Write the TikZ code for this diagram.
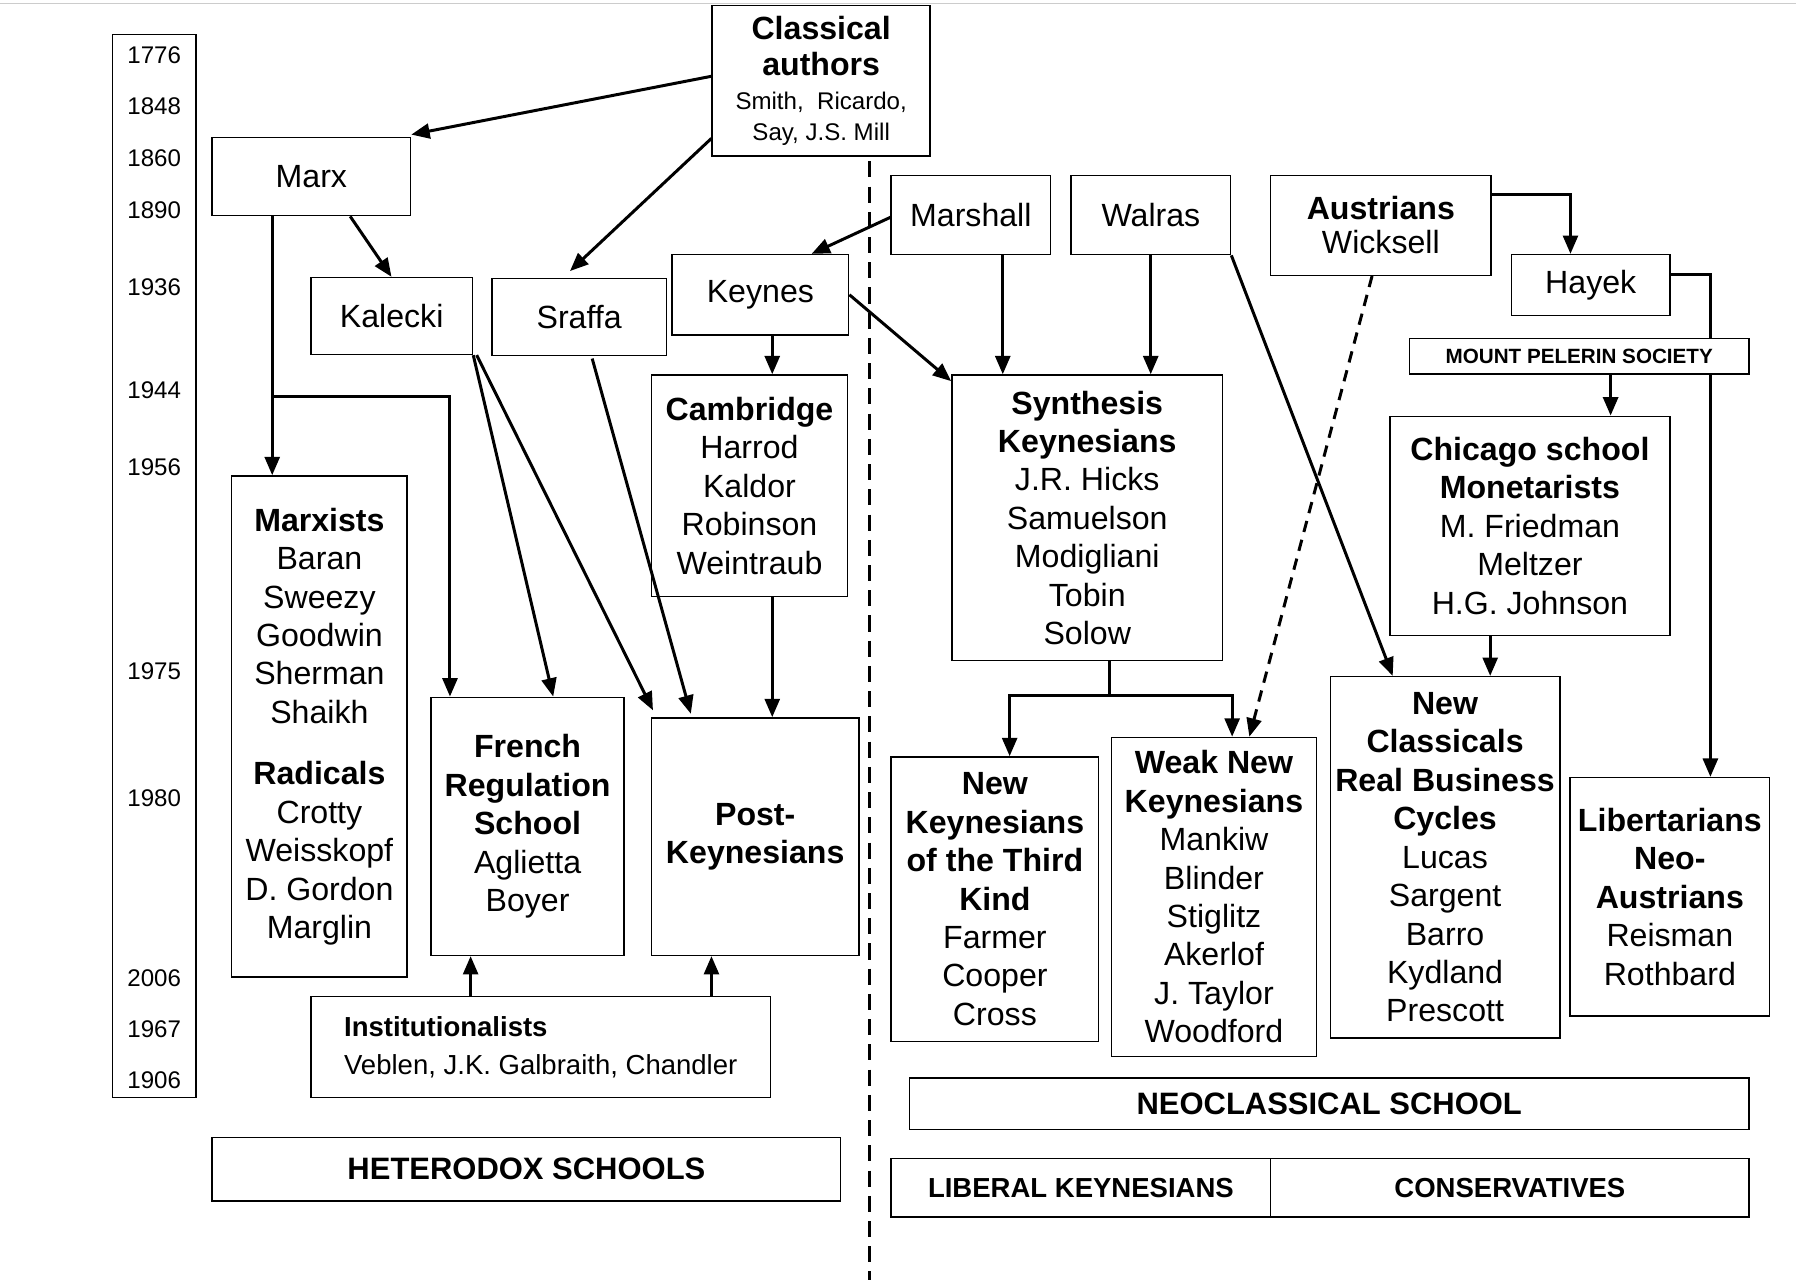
\documentclass[tikz,border=0pt]{standalone}
\usepackage{fontspec}
\setmainfont{Liberation Sans}
\usetikzlibrary{calc,arrows.meta}
\newcommand\fs[1]{\fontsize{#1}{\the\numexpr#1*6/5\relax}\selectfont}
\newcommand\bx[7]{\node[box,#6,minimum width={#4-#2},minimum height={#5-#3}] (#1) at ({(#2+#4)/2},{(#3+#5)/2}) {#7};}
\begin{document}
\begin{tikzpicture}[x=1pt,y=-1pt,
 box/.style={draw,line width=1.3pt,fill=white,align=center,inner sep=2pt,font=\fontsize{28}{33.5}\selectfont},
 arr/.style={line width=2.6pt,-{Triangle[length=16pt,width=13pt]}},
 yr/.style={font=\fontsize{21}{24}\selectfont}]
\useasboundingbox (0,0) rectangle (1566,1116);
\draw[gray!40,line width=1pt] (0,3)--(1566,3);
% years
\node[draw,line width=1.3pt,minimum width=73,minimum height=927] (years) at (134.5,493.5) {};
\foreach \y/\t in {48/1776,93/1848,138/1860,183/1890,250/1936,340/1944,407/1956,585/1975,696/1980,853/2006,897/1967,942/1906}
  \node[yr] at (134.5,\y) {\t};
% boxes
\bx{classical}{621}{5}{811}{136}{}{\textbf{Classical}\\[-2pt]\textbf{authors}\\[-4pt]{\fs{21}Smith,\ \ Ricardo,}\\[-6pt]{\fs{21}Say, J.S. Mill}}
\bx{marx}{185}{120}{358}{188}{}{Marx}
\bx{kalecki}{271}{242}{412}{309}{}{Kalecki}
\bx{sraffa}{429}{243}{581}{310}{}{Sraffa}
\bx{keynes}{586}{222}{740}{292}{}{Keynes}
\bx{cambridge}{568}{327}{739}{520}{}{\textbf{Cambridge}\\Harrod\\Kaldor\\Robinson\\Weintraub}
\bx{marxists}{202}{415}{355}{852}{}{\textbf{Marxists}\\Baran\\Sweezy\\Goodwin\\Sherman\\Shaikh\\[20pt]\textbf{Radicals}\\Crotty\\Weisskopf\\D. Gordon\\Marglin}
\bx{french}{376}{608}{544}{833}{}{\textbf{French}\\\textbf{Regulation}\\\textbf{School}\\Aglietta\\Boyer}
\bx{post}{568}{626}{749}{833}{}{\textbf{Post-}\\\textbf{Keynesians}}
\bx{inst}{271}{869}{672}{957}{align=left}{{\fs{24}\textbf{Institutionalists}}\\{\fs{24}Veblen, J.K. Galbraith, Chandler}}
\bx{het}{185}{992}{733}{1047}{}{\fs{27}\textbf{HETERODOX SCHOOLS}}
\bx{marshall}{777}{153}{916}{222}{}{Marshall}
\bx{walras}{934}{153}{1073}{222}{}{Walras}
\bx{austrians}{1108}{153}{1300}{240}{}{\textbf{Austrians}\\[-4pt]Wicksell}
\bx{hayek}{1318}{222}{1456}{275}{}{Hayek}
\bx{mps}{1229}{295}{1525}{326}{}{\fs{18}\textbf{MOUNT PELERIN SOCIETY}}
\bx{synth}{830}{327}{1066}{576}{}{\textbf{Synthesis}\\\textbf{Keynesians}\\J.R. Hicks\\Samuelson\\Modigliani\\Tobin\\Solow}
\bx{chicago}{1212}{363}{1456}{554}{}{\textbf{Chicago school}\\\textbf{Monetarists}\\M. Friedman\\Meltzer\\H.G. Johnson}
\bx{nk3}{777}{660}{958}{908}{}{\textbf{New}\\\textbf{Keynesians}\\\textbf{of the Third}\\\textbf{Kind}\\Farmer\\Cooper\\Cross}
\bx{weak}{969}{643}{1148}{921}{}{\textbf{Weak New}\\\textbf{Keynesians}\\Mankiw\\Blinder\\Stiglitz\\Akerlof\\J. Taylor\\Woodford}
\bx{newclass}{1160}{590}{1360}{905}{}{\textbf{New}\\\textbf{Classicals}\\\textbf{Real Business}\\\textbf{Cycles}\\Lucas\\Sargent\\Barro\\Kydland\\Prescott}
\bx{libert}{1369}{678}{1543}{886}{}{\textbf{Libertarians}\\\textbf{Neo-}\\\textbf{Austrians}\\Reisman\\Rothbard}
\bx{neo}{793}{940}{1525}{985}{}{\fs{27}\textbf{NEOCLASSICAL SCHOOL}}
\bx{lib}{777}{1010}{1108}{1061}{}{\fs{24}\textbf{LIBERAL KEYNESIANS}}
\bx{cons}{1108}{1010}{1525}{1061}{}{\fs{24}\textbf{CONSERVATIVES}}
% dashed divider
\draw[line width=2.6pt,dash pattern=on 14pt off 8pt] ($(classical.south west)+(138,4)$) -- ++(0,982);
% arrows
\draw[arr] ($(classical.west)+(0,-4)$) -- ($(marx.north east)+(0,-2)$);
\draw[arr] ($(classical.south west)+(0,-16)$) -- ($(sraffa.north)+(-8,-6)$);
\draw[arr] ($(marx.south west)+(53,0)$) -- ($(marxists.north west)+(36,0)$);
\draw[arr] ($(marx.south west)+(53,157)$) -| ($(french.north west)+(17,0)$);
\draw[arr] ($(marx.south west)+(121,0)$) -- ($(kalecki.north west)+(71,0)$);
\draw[arr] (kalecki.south east) -- ($(french.north west)+(107,0)$);
\draw[arr] ($(kalecki.south east)+(3,0)$) -- ($(post.north west)+(2,-6)$);
\draw[arr] ($(sraffa.south west)+(88,2)$) -- ($(post.north west)+(35,-3)$);
\draw[arr] ($(marshall.west)+(0,2)$) -- ($(keynes.north east)+(-33,0)$);
\draw[arr] ($(keynes.south west)+(88,0)$) -- ($(cambridge.north west)+(106,0)$);
\draw[arr] ($(cambridge.south west)+(106,0)$) -- ($(post.north west)+(106,0)$);
\draw[arr] ($(inst.north west)+(140,0)$) -- ($(french.south west)+(35,0)$);
\draw[arr] ($(inst.north west)+(350,0)$) -- ($(post.south west)+(53,0)$);
\draw[arr] (keynes.east) -- ($(synth.north west)+(0,6)$);
\draw[arr] ($(marshall.south west)+(98,0)$) -- ($(synth.north west)+(45,0)$);
\draw[arr] ($(walras.south west)+(70,0)$) -- ($(synth.north west)+(174,0)$);
\draw[arr] (walras.south east) -- ($(newclass.north west)+(55,0)$);
\draw[arr,dash pattern=on 10pt off 7pt] ($(austrians.south west)+(89,0)$) -- ($(weak.north west)+(121,0)$);
\draw[arr] ($(austrians.north east)+(0,17)$) -| ($(hayek.north west)+(52,0)$);
\draw[line width=2.6pt] ($(hayek.north east)+(0,18)$) -| ($(mps.north west)+(263,0)$);
\draw[arr] ($(mps.south west)+(263,0)$) -- ($(libert.north west)+(123,0)$);
\draw[arr] ($(mps.south west)+(176,0)$) -- ($(chicago.north west)+(193,0)$);
\draw[arr] ($(chicago.south west)+(88,0)$) -- ($(newclass.north west)+(140,0)$);
\draw[line width=2.6pt] ($(synth.south west)+(138,0)$) -- ++(0,30) coordinate (j);
\draw[arr] ($(j)+(1.3,0)$) -| ($(nk3.north west)+(104,0)$);
\draw[arr] ($(j)+(-1.3,0)$) -| ($(weak.north west)+(106,0)$);
\end{tikzpicture}
\end{document}
